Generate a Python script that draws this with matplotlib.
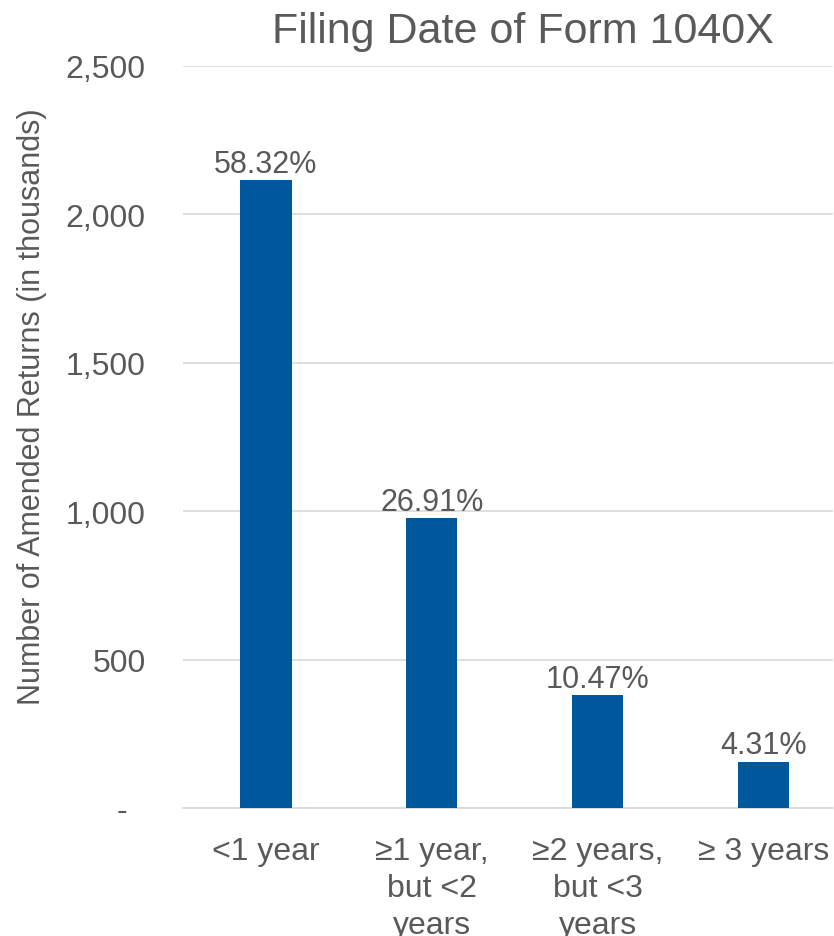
import matplotlib
matplotlib.use("Agg")
import matplotlib.pyplot as plt

categories = ["<1 year", "\u22651 year,\nbut <2\nyears", "\u22652 years,\nbut <3\nyears", "\u2265 3 years"]
values = [2116, 976, 380, 156]
pct_labels = ["58.32%", "26.91%", "10.47%", "4.31%"]
yticks = [0, 500, 1000, 1500, 2000, 2500]
ytick_labels = ["-  ", "500", "1,000", "1,500", "2,000", "2,500"]

TXT = "#595959"
plt.rcParams['font.family'] = ['Liberation Sans', 'DejaVu Sans']

fig = plt.figure(figsize=(8.34, 9.37), dpi=100)
ax = fig.add_axes([183/834, 1-809/937, (833-183)/834, (809-67)/937])

x = list(range(len(categories)))
bars = ax.bar(x, values, width=0.31, color="#00589C", zorder=3)
ax.bar_label(bars, labels=pct_labels, padding=1, fontsize=22, color=TXT)

ax.set_xlim(-0.5, 3.42)
ax.set_ylim(0, 2500)
ax.set_yticks(yticks)
ax.set_yticklabels(ytick_labels)
ax.set_xticks(x)
ax.set_xticklabels(categories, linespacing=1.3)
ax.tick_params(axis='both', length=0, labelsize=23, labelcolor=TXT)
ax.tick_params(axis='y', pad=27)
ax.tick_params(axis='x', pad=20)
ax.yaxis.grid(True, color="#D9D9D9", linewidth=1.2, zorder=0)
for s in ["left", "right", "top"]:
    ax.spines[s].set_visible(False)
ax.spines["bottom"].set_color("#D9D9D9")
ax.spines["bottom"].set_linewidth(1.2)

ax.set_ylabel("Number of Amended Returns (in thousands)", fontsize=22, color=TXT, labelpad=13)
ax.yaxis.label.set_y(0.542)
fig.text(523/834, 1-32/937, "Filing Date of Form 1040X", fontsize=31, color=TXT, ha="center", va="center")

fig.savefig("out.png", dpi=100)
